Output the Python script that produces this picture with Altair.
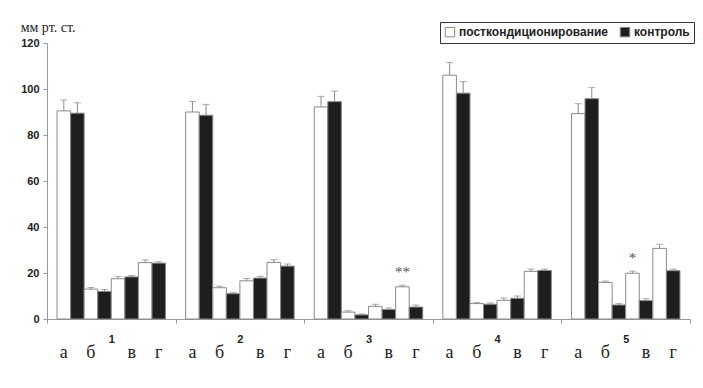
import altair as alt
import pandas as pd

groups = ["1", "2", "3", "4", "5"]
subs = ["а", "б", "в", "г"]
series = ["посткондиционирование", "контроль"]

post_vals = [90.5, 13.0, 17.5, 24.5, 90.0, 13.6, 16.6, 24.6, 92.2, 3.0, 5.5, 14.0,
             106.0, 6.7, 8.1, 20.7, 89.3, 15.9, 19.9, 30.7]
post_err = [4.7, 0.7, 1.0, 1.2, 4.6, 0.7, 1.0, 1.2, 4.6, 0.6, 0.9, 0.7,
            5.5, 0.5, 1.0, 1.0, 4.3, 0.6, 0.9, 1.8]
ctrl_vals = [89.5, 12.0, 18.3, 24.3, 88.6, 11.0, 17.8, 23.0, 94.5, 1.8, 4.1, 5.2,
             98.2, 6.4, 9.0, 21.1, 95.8, 6.1, 8.0, 21.0]
ctrl_err = [4.5, 0.8, 0.6, 0.6, 4.7, 0.6, 0.8, 0.9, 4.6, 0.4, 0.7, 0.9,
            5.0, 0.6, 1.0, 0.6, 4.8, 0.6, 0.8, 0.7]

mark_groups = ["3", "5"]
mark_subs = ["г", "в"]
mark_texts = ["**", "*"]

# which bar slot each sub-category letter sits under
label_slot = ["а|0", "б|0", "в|1", "г|1"]

keys = [f"{s}|{k}" for s in subs for k in range(2)]

rows = []
for gi, g in enumerate(groups):
    for si, s in enumerate(subs):
        i = gi * 4 + si
        for k, (vals, errs) in enumerate([(post_vals, post_err), (ctrl_vals, ctrl_err)]):
            rows.append({"group": g, "sub": s, "series": series[k], "key": f"{s}|{k}",
                         "value": vals[i], "top": vals[i] + errs[i]})
df = pd.DataFrame(rows)

ann_rows = []
for g, s, t in zip(mark_groups, mark_subs, mark_texts):
    i = groups.index(g) * 4 + subs.index(s)
    ann_rows.append({"group": g, "key": f"{s}|0", "top": post_vals[i] + post_err[i], "txt": t})
ann = pd.DataFrame(ann_rows)

lab = pd.DataFrame([{"group": g, "sub": s, "key": label_slot[si]}
                    for g in groups for si, s in enumerate(subs)])

W, H = 643, 276

x_enc = alt.X("group:N", sort=groups,
              scale=alt.Scale(paddingInner=0, paddingOuter=0),
              axis=alt.Axis(title=None, labelAngle=0, tickBand="extent",
                            labelFont="Liberation Sans", labelFontWeight="bold",
                            labelFontSize=11, labelColor="#222", labelPadding=10,
                            domainColor="#999", tickColor="#999", tickSize=4))
xo_enc = alt.XOffset("key:N", sort=keys,
                     scale=alt.Scale(domain=keys, paddingOuter=0.74, paddingInner=0))
y_enc = alt.Y("value:Q", scale=alt.Scale(domain=[0, 120], nice=False),
              axis=alt.Axis(title=None, values=[0, 20, 40, 60, 80, 100, 120], grid=False,
                            labelFont="Liberation Sans", labelFontWeight="bold",
                            labelFontSize=11, labelColor="#222", labelPadding=4,
                            domainColor="#999", tickColor="#999", tickSize=4))

base = alt.Chart(df)

bars = base.mark_bar(stroke="#8a8a8a", strokeWidth=1).encode(
    x=x_enc, xOffset=xo_enc, y=y_enc,
    color=alt.Color("series:N", sort=series,
                    scale=alt.Scale(domain=series, range=["#ffffff", "#1e1e1e"]),
                    legend=alt.Legend(orient="none", legendX=393, legendY=-21,
                                      direction="horizontal", title=None,
                                      symbolType="square", symbolSize=90,
                                      symbolStrokeColor="#888", symbolStrokeWidth=1,
                                      labelFont="Liberation Sans", labelFontWeight="bold",
                                      labelFontSize=12, labelColor="#222",
                                      strokeColor="#333", fillColor="white",
                                      padding=4, columnPadding=10, labelOffset=3)),
)

err = base.mark_rule(color="#8a8a8a", strokeWidth=1).encode(
    x=x_enc, xOffset=xo_enc, y="value:Q", y2="top:Q")

caps = base.mark_tick(color="#8a8a8a", size=7, thickness=1).encode(
    x=x_enc, xOffset=xo_enc, y="top:Q")

stars = alt.Chart(ann).mark_text(font="Liberation Serif", fontSize=15, color="#555",
                                 baseline="bottom", dy=-5).encode(
    x=x_enc, xOffset=xo_enc, y="top:Q", text="txt:N")

sublabels = alt.Chart(lab).mark_text(font="Liberation Serif", fontSize=18, color="#222",
                                     baseline="middle").encode(
    x=x_enc, xOffset=xo_enc,
    y=alt.value(H + 34),
    text="sub:N")

chart = alt.layer(bars, err, caps, stars, sublabels).properties(
    width=W, height=H,
    autosize=alt.AutoSizeParams(type="none"),
    padding={"left": 39, "top": 35, "right": 5, "bottom": 60},
    title=alt.TitleParams("мм рт. ст.", anchor="start", font="Liberation Serif",
                          fontSize=14, fontWeight="normal", color="#222",
                          dx=0, dy=25, offset=12),
).configure_view(stroke=None)

chart.save("out.html", embed_options={"renderer": "svg", "actions": False})
